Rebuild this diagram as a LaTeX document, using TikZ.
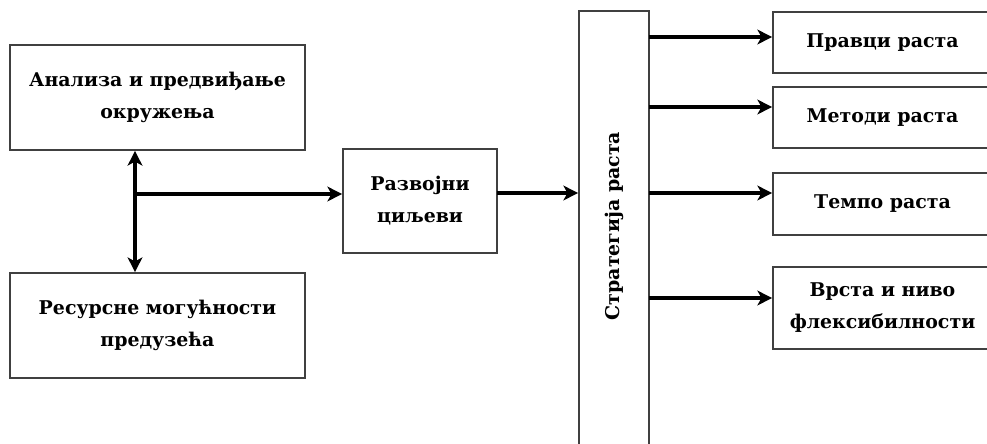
\documentclass[tikz,border=0pt]{standalone}
\usepackage{fontspec}
\setmainfont{DejaVu Serif}
\usetikzlibrary{arrows.meta}
\definecolor{edge}{HTML}{404040}
\tikzset{
  lbl/.style={font=\fontsize{14.2}{24}\selectfont\bfseries},
  box/.style={lbl, draw=edge, line width=1.3pt, fill=white, inner sep=0pt, align=center},
  flow/.style={line width=2.8pt, -{Stealth[length=11pt,width=11pt,inset=3pt]}},
  twoway/.style={line width=2.8pt, {Stealth[length=11pt,width=11pt,inset=3pt]}-{Stealth[length=11pt,width=11pt,inset=3pt]}}
}
\begin{document}
\begin{tikzpicture}[x=0.75pt,y=-0.75pt]
\useasboundingbox (0,0) rectangle (987,443);

% inputs on the left
\node[box, minimum width=221.25pt, minimum height=78.75pt] (a) at (157.5,97.5)
  {Анализа и предвиђање\\окружења};
\node[box, minimum width=221.25pt, minimum height=78.75pt] (r) at (157.5,325.5)
  {Ресурсне могућности\\предузећа};

% goals
\node[box, minimum width=115.5pt, minimum height=78pt] (g) at (420,201)
  {Развојни\\циљеви};

% strategy column (runs off the lower edge)
\node[box, minimum width=52.5pt, minimum height=336.75pt] (s) at (614,235.5) {};
\node[lbl, rotate=90] (st) at (614,226) {Стратегија раста};

% outputs on the right
\node[box, minimum width=164.25pt, minimum height=45.75pt] (p1) at (882.5,42.5) {Правци раста};
\node[box, minimum width=164.25pt, minimum height=45.75pt] (p2) at (882.5,117.5) {Методи раста};
\node[box, minimum width=164.25pt, minimum height=46.5pt] (p3) at (882.5,204) {Темпо раста};
\node[box, minimum width=164.25pt, minimum height=61.5pt] (p4) at (882.5,308) {Врста и ниво\\флексибилности};

% junction between the two inputs
\coordinate (j) at (135,194);
\coordinate (k) at (497,193);

\draw[twoway] (j |- a.south) -- (j |- r.north);
\draw[flow] (j) -- (g.west |- j);
\draw[flow] (k) -- (s.west |- k);

\foreach \n/\yy in {p1/37, p2/107, p3/193, p4/298}{
  \coordinate (o\n) at (649,\yy);
  \draw[flow] (o\n) -- (\n.west |- o\n);
}
\end{tikzpicture}
\end{document}
